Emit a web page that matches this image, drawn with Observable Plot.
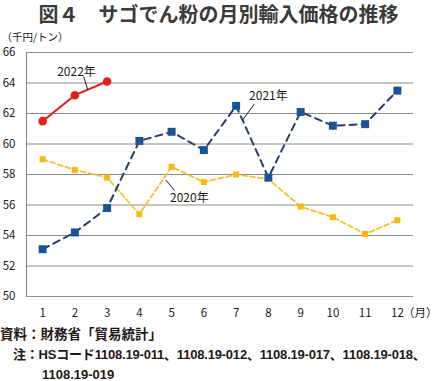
<!DOCTYPE html>
<html><head><meta charset="utf-8">
<script src="https://cdn.jsdelivr.net/npm/d3@7"></script>
<script src="https://cdn.jsdelivr.net/npm/@observablehq/plot@0.6"></script>
<style>
body{margin:0;background:#fff;width:437px;font-family:"Noto Sans CJK JP","Noto Sans",sans-serif;color:#231815;overflow:hidden;}
#title{height:28px;line-height:28px;text-align:center;font-size:20px;font-weight:bold;color:#3a3a3a;white-space:pre;}
#foot{font-size:13px;font-weight:bold;line-height:20px;color:#231815;font-family:"Liberation Sans","Noto Sans CJK JP",sans-serif;}
#foot div{white-space:nowrap;}
</style></head><body>
<div id="title">図４　サゴでん粉の月別輸入価格の推移</div>
<div id="chart"></div>
<div id="foot">
<div style="padding-left:0px;font-size:13.5px">資料：財務省「貿易統計」</div>
<div style="padding-left:13px;letter-spacing:-0.2px">注：HSコード1108.19-011、1108.19-012、1108.19-017、1108.19-018、</div>
<div style="padding-left:42px">1108.19-019</div>
</div>
<script>
const months = [1,2,3,4,5,6,7,8,9,10,11,12];
const v2020 = [59.0,58.3,57.8,55.4,58.5,57.5,58.0,57.7,55.9,55.2,54.1,55.0];
const v2021 = [53.1,54.2,55.8,60.2,60.8,59.6,62.5,57.8,62.1,61.2,61.3,63.5];
const v2022 = [61.5,63.2,64.1];
const yTicks = [50,52,54,56,58,60,62,64,66];
const seriesNames = ["2020年","2021年","2022年"];
const labelMonth = [5.55,8.0,2.05];
const labelValue = [56.43,63.15,64.69];
const leaderX1 = [4.82,7.57,2.27];
const leaderY1 = [57.64,62.64,64.43];
const leaderX2 = [5.09,7.21,2.40];
const leaderY2 = [56.95,61.59,63.56];

const d2020 = months.map((m,i)=>({m, v:v2020[i]}));
const d2021 = months.map((m,i)=>({m, v:v2021[i]}));
const d2022 = v2022.map((v,i)=>({m:months[i], v}));
const labels = seriesNames.map((n,i)=>({n, x:labelMonth[i], y:labelValue[i], x1:leaderX1[i], y1:leaderY1[i], x2:leaderX2[i], y2:leaderY2[i]}));

const chart = Plot.plot({
  width: 437, height: 297,
  marginLeft: 26, marginRight: 24, marginTop: 24, marginBottom: 29,
  style: {fontFamily: '"Noto Sans CJK JP","Noto Sans",sans-serif', fontSize: "11.5px", color: "#231815", background: "#fff"},
  x: {domain: [0.5, 12.5], ticks: months, tickSize: 0, tickPadding: 12, label: null, tickFormat: d => d},
  y: {domain: [50, 66], ticks: yTicks, tickSize: 0, tickPadding: 11, label: null},
  marks: [
    Plot.ruleY(yTicks, {stroke: "#8c8c8c", strokeWidth: 1.2}),
    Plot.ruleX([0.5], {stroke: "#8c8c8c", strokeWidth: 1.2}),
    Plot.line(d2020, {x: "m", y: "v", stroke: "#f3c12e", strokeWidth: 1.8, strokeDasharray: "5,3"}),
    Plot.dot(d2020, {x: "m", y: "v", symbol: "square", r: 3.4, fill: "#f5b90f", stroke: "none"}),
    Plot.line(d2021, {x: "m", y: "v", stroke: "#243d6e", strokeWidth: 2, strokeDasharray: "7,5"}),
    Plot.dot(d2021, {x: "m", y: "v", symbol: "square", r: 4.5, fill: "#1b5494", stroke: "none"}),
    Plot.line(d2022, {x: "m", y: "v", stroke: "#e3201b", strokeWidth: 2}),
    Plot.dot(d2022, {x: "m", y: "v", r: 4.3, fill: "#e3201b", stroke: "none"}),
    Plot.link(labels, {x1: "x1", y1: "y1", x2: "x2", y2: "y2", stroke: "#231815", strokeWidth: 1}),
    Plot.text(labels, {x: "x", y: "y", text: "n", fontSize: 12, fill: "#231815"}),
    Plot.text(["（千円/トン）"], {frameAnchor: "top-left", dx: -25, dy: -15, textAnchor: "start", lineAnchor: "middle", fontSize: 10.5, fill: "#231815"}),
    Plot.text(["（月）"], {frameAnchor: "bottom-right", dx: 24, dy: 17, textAnchor: "end", lineAnchor: "middle", fontSize: 11.5, fill: "#231815"})
  ]
});
document.getElementById("chart").appendChild(chart);
</script>
</body></html>
